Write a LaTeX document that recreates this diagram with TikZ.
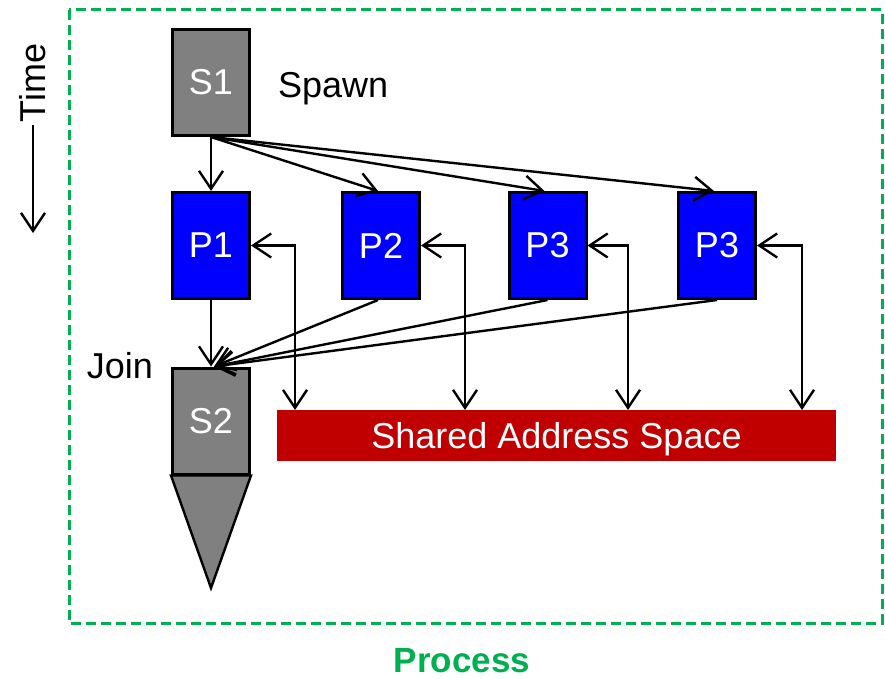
\documentclass[tikz,border=0pt]{standalone}
\usepackage{fontspec}
\setmainfont{Liberation Sans}
\usetikzlibrary{arrows.meta,calc}
\definecolor{procgreen}{HTML}{00B050}
\definecolor{seqgray}{HTML}{808080}
\definecolor{parblue}{HTML}{0000FF}
\definecolor{memred}{HTML}{C00000}
\tikzset{
  bigtext/.style={font=\fontsize{36pt}{40pt}\selectfont},
  seqbox/.style={draw=black, line width=3pt, fill=seqgray, text=white,
    minimum width=77pt, minimum height=106pt, inner sep=0pt, bigtext},
  parbox/.style={draw=black, line width=3pt, fill=parblue, text=white,
    minimum width=77pt, minimum height=106pt, inner sep=0pt, bigtext},
  barb/.tip={Straight Barb[length=18pt,width=24pt,line width=2.4pt]},
  flow/.style={line width=2.4pt, -barb},
  twoway/.style={line width=2.4pt, barb-barb},
}
\begin{document}
\begin{tikzpicture}[x=1pt,y=-1pt]
  \useasboundingbox (0,0) rectangle (885,679);
  \fill[white] (0,0) rectangle (885,679);

  % process boundary
  \draw[procgreen, line width=3pt, dash pattern=on 10pt off 5pt] (69,10) rectangle (882,623);
  \node[bigtext, font=\fontsize{35pt}{40pt}\selectfont\bfseries, text=procgreen, inner sep=0pt] (proc) at (462,661) {Process};

  % time axis
  \node[bigtext, rotate=90, inner sep=2pt] (time) at (33,83) {Time};
  \coordinate (tend) at (33,233);
  \draw[flow] (time.west) -- (tend);

  % sequential parts
  \node[seqbox] (s1) at (211,82.5) {S1};
  \node[bigtext, anchor=west, inner sep=0pt] (spawn) at (278,89) {Spawn};
  \node[seqbox] (s2) at (211,421) {\raisebox{-2pt}{S2}};
  \node[bigtext, anchor=east, inner sep=0pt] (join) at (153,366) {Join};
  \coordinate (tip) at (211,588);
  \draw[line width=2.4pt, fill=seqgray, line join=miter] (s2.south west) -- (s2.south east) -- (tip) -- cycle;

  % parallel workers
  \node[parbox] (p1) at (211,245.5) {P1};
  \node[parbox] (p2) at (381,245.5) {P2};
  \node[parbox] (p3) at (547.5,245.5) {P3};
  \node[parbox] (p4) at (717,245.5) {P3};

  % shared memory
  \node[fill=memred, text=white, bigtext, minimum width=559pt, minimum height=51pt,
        inner sep=0pt, text height=26pt, text depth=0pt] (mem) at (556.5,435.5) {Shared Address Space};

  % spawn
  \draw[flow] (s1.south) -- (p1.north);
  \draw[flow] (s1.south) -- ([xshift=-3pt]p2.north);
  \draw[flow] (s1.south) -- ([xshift=-3pt]p3.north);
  \draw[flow] (s1.south) -- ([xshift=-3pt]p4.north);

  % join
  \draw[flow] (p1.south) -- (s2.north);
  \draw[flow] ([xshift=-3pt]p2.south) -- ([xshift=3pt]s2.north);
  \draw[flow] (p3.south) -- ([xshift=3pt]s2.north);
  \draw[flow] (p4.south) -- ([xshift=3pt]s2.north);

  % memory access
  \coordinate (m1) at (295,410);
  \coordinate (m2) at (465,410);
  \coordinate (m3) at (628,410);
  \coordinate (m4) at (802,410);
  \draw[twoway] (p1.east) -| (m1);
  \draw[twoway] (p2.east) -| (m2);
  \draw[twoway] (p3.east) -| (m3);
  \draw[twoway] (p4.east) -| (m4);
\end{tikzpicture}
\end{document}
